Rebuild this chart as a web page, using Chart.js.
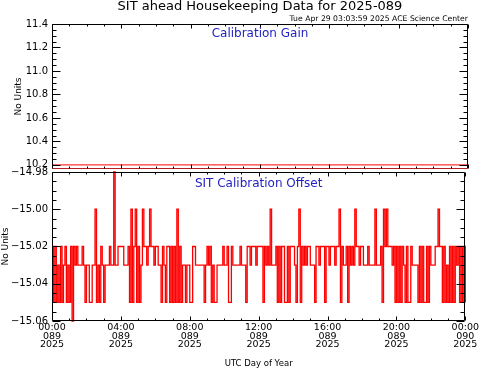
<!DOCTYPE html>
<html>
<head>
<meta charset="utf-8">
<script src="https://cdn.jsdelivr.net/npm/chart.js@4.4.1/dist/chart.umd.min.js"></script>
<style>
    html, body { margin: 0; padding: 0; background: #fff; }
    #wrap { position: relative; width: 481px; height: 370px; }
    #wrap canvas { position: absolute; left: 0; top: 0; }
</style>
</head>
<body>
<div id="wrap">
    <canvas id="grafico_offset" width="481" height="370"></canvas>
    <canvas id="grafico_gain" width="481" height="370"></canvas>
</div>
<script>
// TEXTOS
var titulo = 'SIT ahead Housekeeping Data for 2025-089';
var subtitulo = 'Tue Apr 29 03:03:59 2025 ACE Science Center';
var titulo_gain = 'Calibration Gain';
var titulo_offset = 'SIT Calibration Offset';
var titulo_y = 'No Units';
var titulo_x = 'UTC Day of Year';

// EJE X (HORAS UTC DEL DIA 089)
var horas_ticks = [0, 4, 8, 12, 16, 20, 24];
var etiquetas_x = [
    ['00:00', '089', '2025'],
    ['04:00', '089', '2025'],
    ['08:00', '089', '2025'],
    ['12:00', '089', '2025'],
    ['16:00', '089', '2025'],
    ['20:00', '089', '2025'],
    ['00:00', '090', '2025']
];

// PANEL SUPERIOR: CALIBRATION GAIN
var gain_horas = [0, 24];
var gain_valores = [10.2, 10.2];
var gain_ticks = [10.2, 10.4, 10.6, 10.8, 11.0, 11.2, 11.4];

// PANEL INFERIOR: CALIBRATION OFFSET (UNA MUESTRA CADA 5 MINUTOS)
var minutos_muestra = 5;
var offset_valores = [
    -15.02,-15.05,-15.02,-15.05,-15.03,-15.05,-15.02,-15.05,-15.03,-15.02,-15.05,-15.03,
    -15.05,-15.02,-15.06,-15.02,-15.03,-15.02,-15.03,-15.03,-15.03,-15.02,-15.03,-15.05,
    -15.03,-15.03,-15.05,-15.05,-15.03,-15.03,-15.00,-15.05,-15.03,-15.05,-15.02,-15.03,
    -15.05,-15.03,-15.03,-15.03,-15.02,-15.03,-15.03,-14.98,-15.03,-15.03,-15.02,-15.02,
    -15.02,-15.02,-15.03,-15.03,-15.03,-15.02,-15.05,-15.00,-15.05,-15.02,-15.00,-15.05,
    -15.02,-15.05,-15.03,-15.00,-15.02,-15.02,-15.03,-15.02,-15.00,-15.02,-15.02,-15.03,
    -15.02,-15.02,-15.03,-15.03,-15.05,-15.02,-15.03,-15.05,-15.02,-15.02,-15.05,-15.02,
    -15.05,-15.02,-15.05,-15.00,-15.05,-15.02,-15.05,-15.03,-15.03,-15.05,-15.03,-15.03,
    -15.05,-15.05,-15.02,-15.02,-15.03,-15.03,-15.03,-15.03,-15.03,-15.03,-15.05,-15.03,
    -15.02,-15.03,-15.02,-15.05,-15.03,-15.05,-15.05,-15.03,-15.03,-15.03,-15.03,-15.02,
    -15.03,-15.03,-15.02,-15.05,-15.05,-15.02,-15.03,-15.03,-15.03,-15.03,-15.03,-15.02,
    -15.03,-15.03,-15.03,-15.05,-15.02,-15.02,-15.03,-15.02,-15.02,-15.02,-15.03,-15.02,
    -15.02,-15.02,-15.02,-15.05,-15.02,-15.03,-15.02,-15.03,-15.00,-15.03,-15.03,-15.03,
    -15.02,-15.05,-15.02,-15.05,-15.02,-15.02,-15.05,-15.05,-15.02,-15.05,-15.02,-15.02,
    -15.02,-15.03,-15.05,-15.02,-15.00,-15.05,-15.02,-15.03,-15.02,-15.03,-15.02,-15.02,
    -15.03,-15.03,-15.03,-15.05,-15.02,-15.02,-15.03,-15.02,-15.02,-15.02,-15.05,-15.02,
    -15.02,-15.03,-15.02,-15.02,-15.02,-15.03,-15.02,-15.02,-15.00,-15.05,-15.02,-15.03,
    -15.03,-15.02,-15.05,-15.02,-15.03,-15.02,-15.03,-15.00,-15.02,-15.02,-15.03,-15.02,
    -15.02,-15.03,-15.03,-15.03,-15.02,-15.03,-15.03,-15.03,-15.03,-15.00,-15.03,-15.03,
    -15.03,-15.02,-15.05,-15.00,-15.02,-15.00,-15.02,-15.02,-15.02,-15.03,-15.02,-15.05,
    -15.02,-15.05,-15.02,-15.05,-15.02,-15.03,-15.05,-15.02,-15.05,-15.05,-15.02,-15.03,
    -15.03,-15.03,-15.03,-15.05,-15.02,-15.05,-15.02,-15.05,-15.05,-15.02,-15.05,-15.02,
    -15.03,-15.03,-15.03,-15.02,-15.02,-15.00,-15.02,-15.02,-15.05,-15.02,-15.05,-15.03,
    -15.05,-15.02,-15.05,-15.02,-15.05,-15.02,-15.03,-15.02,-15.05,-15.02,-15.05,-15.02,
    -15.05
];
var offset_ticks = [-15.06, -15.04, -15.02, -15.00, -14.98];

// ESTILO
var fuente = 'DejaVu Sans';
var color_linea = '#ff0000';
var color_azul = '#2323c4';
Chart.defaults.font.family = fuente;
Chart.defaults.color = '#000';

// SUBDIVIDIR TICKS MAYORES EN MENORES
function Ticks_Menores(mayores, partes) {
    var menores = [];
    for (var i = 0; i < mayores.length - 1; i++) {
        var paso = (mayores[i + 1] - mayores[i]) / partes;
        for (var k = 1; k < partes; k++) {
            menores.push(mayores[i] + paso * k);
        }
    }
    return menores;
}

// MARCO Y TICKS HACIA ADENTRO (ESTILO IDL)
var plugin_marco = {
    id: 'marco',
    afterDatasetsDraw: function(chart, args, opts) {
        var ctx = chart.ctx;
        var a = chart.chartArea;
        var sx = chart.scales.x;
        var sy = chart.scales.y;
        var l = Math.round(a.left) + 0.5;
        var r = Math.round(a.right) - 0.5;
        var t = Math.round(a.top) + 0.5;
        var b = Math.round(a.bottom) - 0.5;
        ctx.save();
        ctx.lineWidth = 1;
        ctx.strokeStyle = '#000';
        ctx.beginPath();
        ctx.moveTo(l, b); ctx.lineTo(l, t); ctx.lineTo(r, t); ctx.lineTo(r, b);
        ctx.stroke();
        ctx.strokeStyle = opts.colorInferior || '#000';
        ctx.beginPath();
        ctx.moveTo(l, b); ctx.lineTo(r, b);
        ctx.stroke();

        ctx.strokeStyle = '#000';
        ctx.beginPath();
        function Tick_X(v, largo) {
            var px = Math.round(sx.getPixelForValue(v)) + 0.5;
            ctx.moveTo(px, b); ctx.lineTo(px, b - largo);
            ctx.moveTo(px, t); ctx.lineTo(px, t + largo);
        }
        function Tick_Y(v, largo) {
            if (v < sy.min - 1e-9 || v > sy.max + 1e-9) return;
            var py = Math.round(sy.getPixelForValue(v)) + 0.5;
            ctx.moveTo(l, py); ctx.lineTo(l + largo, py);
            ctx.moveTo(r, py); ctx.lineTo(r - largo, py);
        }
        opts.xMayores.forEach(function(v) { Tick_X(v, 4); });
        Ticks_Menores(opts.xMayores, 4).forEach(function(v) { Tick_X(v, 2); });
        opts.yMayores.forEach(function(v) { Tick_Y(v, 8); });
        var ym = [opts.yMayores[0] - (opts.yMayores[1] - opts.yMayores[0])].concat(opts.yMayores);
        Ticks_Menores(ym, 4).forEach(function(v) { Tick_Y(v, 4); });
        ctx.stroke();
        ctx.restore();
    }
};

// TEXTOS FIJOS DEL GRAFICO
var plugin_textos = {
    id: 'textos',
    afterDraw: function(chart, args, opts) {
        var ctx = chart.ctx;
        var a = chart.chartArea;
        ctx.save();
        ctx.textBaseline = 'middle';
        (opts.items || []).forEach(function(it) {
            ctx.font = it.size + 'px "' + fuente + '"';
            ctx.fillStyle = it.color || '#000';
            ctx.textAlign = it.align;
            var x = it.align === 'right' ? a.right : (a.left + a.right) / 2;
            ctx.fillText(it.text, x, a.top + it.dy);
        });
        ctx.restore();
    }
};

// GRAFICO PANEL SUPERIOR
function Cargar_Grafico_Gain() {
    var puntos = [];
    gain_horas.forEach(function(h, i) {
        puntos.push({ x: h, y: gain_valores[i] });
    });
    var ctx = document.getElementById('grafico_gain').getContext('2d');
    new Chart(ctx, {
        type: 'line',
        data: {
            datasets: [{
                data: puntos,
                borderColor: color_linea,
                borderWidth: 1,
                pointRadius: 0,
                tension: 0,
                fill: false
            }]
        },
        options: {
            responsive: false,
            animation: false,
            devicePixelRatio: 1,
            layout: { padding: { left: 0, right: 13, top: 24, bottom: 0 } },
            plugins: {
                legend: { display: false },
                tooltip: { enabled: false },
                marco: { xMayores: horas_ticks, yMayores: gain_ticks, colorInferior: '#b02020' },
                textos: {
                    items: [
                        { text: titulo, size: 13, align: 'center', dy: -17 },
                        { text: subtitulo, size: 7.7, align: 'right', dy: -5 },
                        { text: titulo_gain, size: 12, align: 'center', dy: 10, color: color_azul }
                    ]
                }
            },
            scales: {
                x: {
                    type: 'linear',
                    min: 0,
                    max: 24,
                    ticks: { display: false },
                    grid: { display: false, drawTicks: false },
                    border: { display: false },
                    afterFit: function(s) { s.height = 201; }
                },
                y: {
                    min: 10.165,
                    max: 11.4,
                    afterBuildTicks: function(s) {
                        s.ticks = gain_ticks.map(function(v) { return { value: v }; });
                    },
                    ticks: {
                        padding: 4,
                        font: { size: 10 },
                        callback: function(value) { return value.toFixed(1); }
                    },
                    grid: { display: false, drawTicks: false },
                    border: { display: false },
                    title: {
                        display: true,
                        text: titulo_y,
                        font: { size: 9 },
                        padding: { top: 13, bottom: 0 }
                    },
                    afterFit: function(s) { s.width = 52; }
                }
            }
        },
        plugins: [plugin_marco, plugin_textos]
    });
}

// GRAFICO PANEL INFERIOR
function Cargar_Grafico_Offset() {
    var puntos = [];
    offset_valores.forEach(function(v, i) {
        puntos.push({ x: i * minutos_muestra / 60, y: v });
    });
    var ctx = document.getElementById('grafico_offset').getContext('2d');
    new Chart(ctx, {
        type: 'line',
        data: {
            datasets: [{
                data: puntos,
                borderColor: color_linea,
                borderWidth: 1.3,
                pointRadius: 0,
                stepped: true,
                fill: false,
                clip: false
            }]
        },
        options: {
            responsive: false,
            animation: false,
            devicePixelRatio: 1,
            layout: { padding: { left: 0, right: 13, top: 172, bottom: 0 } },
            plugins: {
                legend: { display: false },
                tooltip: { enabled: false },
                marco: { xMayores: horas_ticks, yMayores: offset_ticks },
                textos: {
                    items: [
                        { text: titulo_offset, size: 12, align: 'center', dy: 12, color: color_azul }
                    ]
                }
            },
            scales: {
                x: {
                    type: 'linear',
                    min: 0,
                    max: 24,
                    afterBuildTicks: function(s) {
                        s.ticks = horas_ticks.map(function(v) { return { value: v }; });
                    },
                    ticks: {
                        padding: 2,
                        maxRotation: 0,
                        autoSkip: false,
                        font: { size: 9.5, lineHeight: 0.92 },
                        callback: function(value, index) { return etiquetas_x[index]; }
                    },
                    grid: { display: false, drawTicks: false },
                    border: { display: false },
                    title: {
                        display: true,
                        text: titulo_x,
                        font: { size: 8.5 },
                        padding: { top: 0, bottom: 1 }
                    },
                    afterFit: function(s) { s.height = 49; }
                },
                y: {
                    min: -15.06,
                    max: -14.98,
                    afterBuildTicks: function(s) {
                        s.ticks = offset_ticks.map(function(v) { return { value: v }; });
                    },
                    ticks: {
                        padding: 4,
                        font: { size: 10 },
                        callback: function(value) { return value.toFixed(2).replace('-', '\u2212'); }
                    },
                    grid: { display: false, drawTicks: false },
                    border: { display: false },
                    title: {
                        display: true,
                        text: titulo_y,
                        font: { size: 9 },
                        padding: { top: 0, bottom: 0 }
                    },
                    afterFit: function(s) { s.width = 52; }
                }
            }
        },
        plugins: [plugin_marco, plugin_textos]
    });
}

Cargar_Grafico_Offset();
Cargar_Grafico_Gain();
</script>
</body>
</html>
